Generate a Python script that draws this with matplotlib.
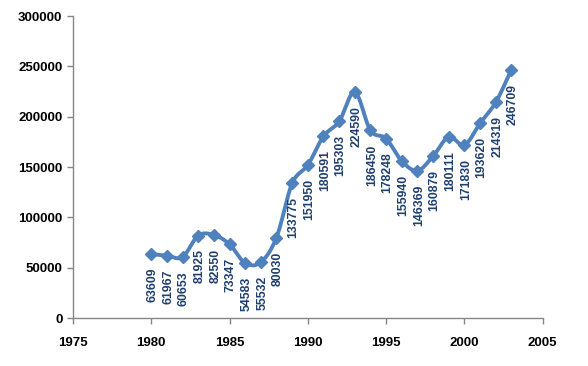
import numpy as np
import matplotlib
matplotlib.use("Agg")
import matplotlib.pyplot as plt

years = list(range(1980, 2004))
values = [63609, 61967, 60653, 81925, 82550, 73347, 54583, 55532, 80030,
          133775, 151950, 180591, 195303, 224590, 186450, 178248, 155940,
          146369, 160879, 180111, 171830, 193620, 214319, 246709]
xticks = [1975, 1980, 1985, 1990, 1995, 2000, 2005]
yticks = [0, 50000, 100000, 150000, 200000, 250000, 300000]

line_color = "#4F81BD"
label_color = "#1F3F6E"
spine_color = "#868686"


def smooth(x, y, n=20):
    x = np.asarray(x, float)
    y = np.asarray(y, float)
    px = np.concatenate([[2 * x[0] - x[1]], x, [2 * x[-1] - x[-2]]])
    py = np.concatenate([[2 * y[0] - y[1]], y, [2 * y[-1] - y[-2]]])
    xs, ys = [], []
    for i in range(1, len(px) - 2):
        t = np.linspace(0, 1, n, endpoint=False)
        p0x, p1x, p2x, p3x = px[i - 1:i + 3]
        p0y, p1y, p2y, p3y = py[i - 1:i + 3]
        c1x, c1y = p1x + (p2x - p0x) / 6, p1y + (p2y - p0y) / 6
        c2x, c2y = p2x - (p3x - p1x) / 6, p2y - (p3y - p1y) / 6
        bx = (1 - t) ** 3 * p1x + 3 * (1 - t) ** 2 * t * c1x + 3 * (1 - t) * t ** 2 * c2x + t ** 3 * p2x
        by = (1 - t) ** 3 * p1y + 3 * (1 - t) ** 2 * t * c1y + 3 * (1 - t) * t ** 2 * c2y + t ** 3 * p2y
        xs.extend(bx)
        ys.extend(by)
    xs.append(x[-1])
    ys.append(y[-1])
    return np.array(xs), np.array(ys)


plt.rcParams['font.family'] = ['Liberation Sans', 'DejaVu Sans']

fig = plt.figure(figsize=(5.88, 3.66), dpi=100)
ax = fig.add_axes([0.124, 0.131, 0.799, 0.825])

sx, sy = smooth(years, values)
ax.plot(sx, sy, color=line_color, lw=2.8, solid_capstyle='round', zorder=2)
ax.plot(years, values, linestyle='none', marker='D', markersize=6.3,
        color=line_color, zorder=3)

for x, v in zip(years, values):
    ax.annotate(str(v), (x, v), xytext=(1, -10), textcoords='offset points',
                rotation=90, ha='center', va='top', fontsize=8.8,
                fontweight='bold', color=label_color)

ax.set_xlim(1975, 2005)
ax.set_ylim(0, 300000)
ax.set_xticks(xticks)
ax.set_yticks(yticks)
ax.set_xticklabels([str(t) for t in xticks], fontsize=9.5, fontweight='bold')
ax.set_yticklabels([str(t) for t in yticks], fontsize=9.5, fontweight='bold')

for s in ['top', 'right']:
    ax.spines[s].set_visible(False)
for s in ['left', 'bottom']:
    ax.spines[s].set_color(spine_color)
    ax.spines[s].set_linewidth(1)
ax.tick_params(axis='both', direction='out', length=4, width=1, color=spine_color)
ax.tick_params(axis='y', pad=3.5)
ax.tick_params(axis='x', pad=10)

fig.savefig("out.png", dpi=100)
